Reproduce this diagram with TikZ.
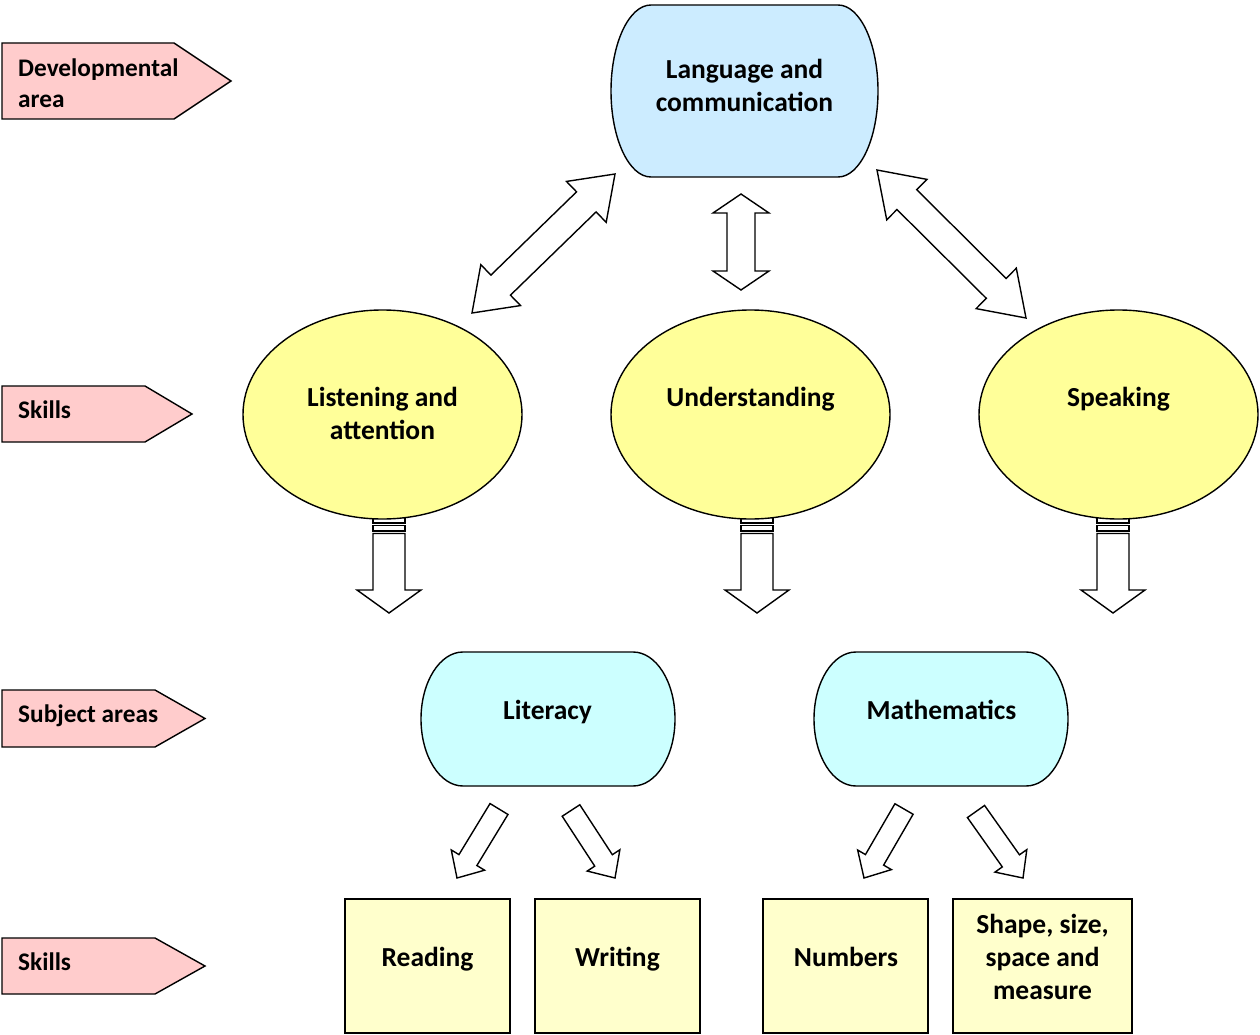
\documentclass[tikz,border=0pt]{standalone}
\usepackage{fontspec}
\setmainfont{Carlito}
\usetikzlibrary{calc,shapes.geometric}
\definecolor{pinkc}{HTML}{FFCCCC}
\definecolor{langc}{HTML}{CCECFF}
\definecolor{subjc}{HTML}{CCFFFF}
\definecolor{skillc}{HTML}{FFFF99}
\definecolor{boxc}{HTML}{FFFFCC}
\tikzset{
  outline/.style={draw=black, line width=1.4pt, line join=miter},
  blk/.style={outline, fill=white},
  txt/.style={font=\fontsize{27.5}{33}\selectfont\bfseries, inner sep=0pt, anchor=base},
  lbltxt/.style={font=\fontsize{25.3}{32}\selectfont\bfseries, inner sep=0pt, anchor=base west},
  pinkshape/.style={outline, fill=pinkc},
  skillell/.style={outline, fill=skillc, ellipse, inner sep=0pt, minimum width=279pt, minimum height=209pt},
  skillbox/.style={outline, fill=boxc, rectangle, inner sep=0pt, minimum height=134pt},
  holder/.style={inner sep=0pt, draw=none}
}
% single block arrow: tail centre, tip, shaft half width, head half width, head length
\newcommand\sglarrow[5]{%
  \coordinate (tmpH) at ($(#2)!#5!(#1)$);
  \draw[blk] ($(#1)!#3!90:(#2)$) -- ($(tmpH)!#3!90:(#2)$) -- ($(tmpH)!#4!90:(#2)$) -- (#2)
    -- ($(tmpH)!#4!-90:(#2)$) -- ($(tmpH)!#3!-90:(#2)$) -- ($(#1)!#3!-90:(#2)$) -- cycle;
}
% double block arrow
\newcommand\dblarrow[5]{%
  \coordinate (tmpA) at ($(#1)!#5!(#2)$);
  \coordinate (tmpB) at ($(#2)!#5!(#1)$);
  \draw[blk] (#1) -- ($(tmpA)!#4!90:(#2)$) -- ($(tmpA)!#3!90:(#2)$) -- ($(tmpB)!#3!90:(#2)$)
    -- ($(tmpB)!#4!90:(#2)$) -- (#2) -- ($(tmpB)!#4!-90:(#2)$) -- ($(tmpB)!#3!-90:(#2)$)
    -- ($(tmpA)!#3!-90:(#2)$) -- ($(tmpA)!#4!-90:(#2)$) -- cycle;
}
\begin{document}
\begin{tikzpicture}[x=1pt, y=-1pt]
\useasboundingbox (0,0) rectangle (1260,1035);

% ---------- pink level labels ----------
\draw[pinkshape] (2,43) -- (174,43) -- (231,81) -- (174,119) -- (2,119) -- cycle;
\node[lbltxt] (devA) at (18,77) {Developmental};
\node[lbltxt] (devB) at (18,108) {area};
\draw[pinkshape] (2,386) -- (145,386) -- (192,414) -- (145,442) -- (2,442) -- cycle;
\node[lbltxt] (skillsA) at (18,418.5) {Skills};
\draw[pinkshape] (2,690) -- (155,690) -- (205,718.5) -- (155,747) -- (2,747) -- cycle;
\node[lbltxt] (subj) at (18,722) {Subject areas};
\draw[pinkshape] (2,938) -- (155,938) -- (205,966) -- (155,994) -- (2,994) -- cycle;
\node[lbltxt] (skillsB) at (18,970.5) {Skills};

% ---------- top: Language and communication ----------
\node[holder, minimum width=267pt, minimum height=172pt] (lang) at (744.5,91) {};
\draw[outline, fill=langc] (651,5) -- (838,5) arc[start angle=-90, end angle=90, x radius=40, y radius=86]
  -- (651,177) arc[start angle=90, end angle=270, x radius=40, y radius=86] -- cycle;
\node[txt] (langA) at (744.5,79) {Language and};
\node[txt] (langB) at (744.5,111.5) {communication};

% ---------- arrows between top and skills ----------
\coordinate (dlA) at (472,313); \coordinate (dlB) at (615,174);
\dblarrow{dlA}{dlB}{14pt}{28.5pt}{40pt}
\coordinate (dmA) at (741,194); \coordinate (dmB) at (741,290);
\dblarrow{dmA}{dmB}{14pt}{28pt}{19pt}
\coordinate (drA) at (877,170); \coordinate (drB) at (1026,318);
\dblarrow{drA}{drB}{14pt}{28.5pt}{42pt}

% ---------- striped arrows (behind ellipses) ----------
\foreach \cx in {389,757,1113}{
  \draw[blk] (\cx-16,512) rectangle (\cx+16,523);
  \draw[blk] (\cx-16,525.5) rectangle (\cx+16,531);
  \draw[blk] (\cx-16,533.5) -- (\cx-16,590) -- (\cx-32,590) -- (\cx,613) -- (\cx+32,590)
    -- (\cx+16,590) -- (\cx+16,533.5) -- cycle;
}

% ---------- skills ellipses ----------
\node[skillell] (listen) at (382.5,414.5) {};
\node[skillell] (under) at (750.5,414.5) {};
\node[skillell] (speak) at (1118.5,414.5) {};
\node[txt] (listenA) at (382.5,406.5) {Listening and};
\node[txt] (listenB) at (382.5,439.5) {attention};
\node[txt] (underA) at (750.5,406.5) {Understanding};
\node[txt] (speakA) at (1118.5,406.5) {Speaking};

% ---------- subject areas ----------
\node[holder, minimum width=254pt, minimum height=134pt] (lit) at (548,719) {};
\draw[outline, fill=subjc] (463,652) -- (633,652) arc[start angle=-90, end angle=90, x radius=42, y radius=67]
  -- (463,786) arc[start angle=90, end angle=270, x radius=42, y radius=67] -- cycle;
\node[txt] (litA) at (547.5,719) {Literacy};
\node[holder, minimum width=254pt, minimum height=134pt] (math) at (941,719) {};
\draw[outline, fill=subjc] (856,652) -- (1026,652) arc[start angle=-90, end angle=90, x radius=42, y radius=67]
  -- (856,786) arc[start angle=90, end angle=270, x radius=42, y radius=67] -- cycle;
\node[txt] (mathA) at (941.5,719) {Mathematics};

% ---------- arrows to bottom skills ----------
\coordinate (a1A) at (499,809);   \coordinate (a1B) at (457,878);
\coordinate (a2A) at (571,810.5); \coordinate (a2B) at (615,878);
\coordinate (a3A) at (904,809);   \coordinate (a3B) at (864,878);
\coordinate (a4A) at (976,811.5); \coordinate (a4B) at (1023,878);
\sglarrow{a1A}{a1B}{10.5pt}{19.5pt}{21pt}
\sglarrow{a2A}{a2B}{10.5pt}{19.5pt}{21pt}
\sglarrow{a3A}{a3B}{10.5pt}{19.5pt}{21pt}
\sglarrow{a4A}{a4B}{10.5pt}{19.5pt}{21pt}

% ---------- bottom skill boxes ----------
\node[skillbox, minimum width=165pt] (read) at (427.5,966) {};
\node[skillbox, minimum width=165pt] (write) at (617.5,966) {};
\node[skillbox, minimum width=165pt] (num) at (845.5,966) {};
\node[skillbox, minimum width=179pt] (shape) at (1042.5,966) {};
\node[txt] (readA) at (427.5,966.5) {Reading};
\node[txt] (writeA) at (617.5,966.5) {Writing};
\node[txt] (numA) at (846,966.5) {Numbers};
\node[txt] (shapeA) at (1042.5,933.5) {Shape, size,};
\node[txt] (shapeB) at (1042.5,966.5) {space and};
\node[txt] (shapeC) at (1042.5,999.5) {measure};
\end{tikzpicture}
\end{document}
